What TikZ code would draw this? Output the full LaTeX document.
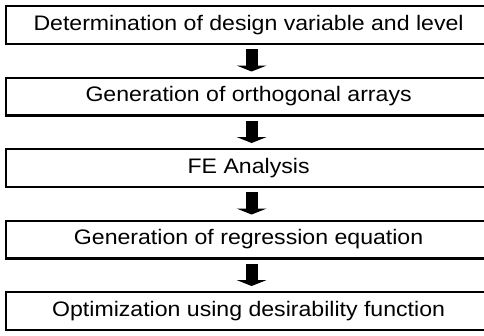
\documentclass[tikz,border=0pt]{standalone}
\usepackage{fontspec}
\setmainfont[FakeStretch=1.1]{Liberation Sans}
\usepackage{tikz}
\usetikzlibrary{positioning, arrows.meta}

\begin{document}
\begin{tikzpicture}[x=1pt, y=-1pt,
    font=\fontsize{21}{25}\selectfont,
    etape/.style={draw, line width=2.2pt, minimum width=485pt, minimum height=37.8pt,
      inner sep=0pt},
    fleche/.style={line width=12pt, -{Triangle[width=30pt, length=6pt]},
      shorten <=4pt, shorten >=5pt},
    node distance=31.5pt]
    \clip (0,0) rectangle (484,335);
    % steps
    \node[etape, anchor=north west] (plan) at (5,5) {Determination of design variable and level};
    \node[etape, below=of plan] (matrice) {Generation of orthogonal arrays};
    \node[etape, below=of matrice] (calcul) {FE Analysis};
    \node[etape, below=of calcul] (regression) {Generation of regression equation};
    \node[etape, below=of regression] (optim) {Optimization using desirability function};
    % arrows between steps
    \foreach \a/\b in {plan/matrice, matrice/calcul, calcul/regression, regression/optim}
      \draw[fleche] ([xshift=3pt]\a.south) -- ([xshift=3pt]\b.north);
\end{tikzpicture}
\end{document}
